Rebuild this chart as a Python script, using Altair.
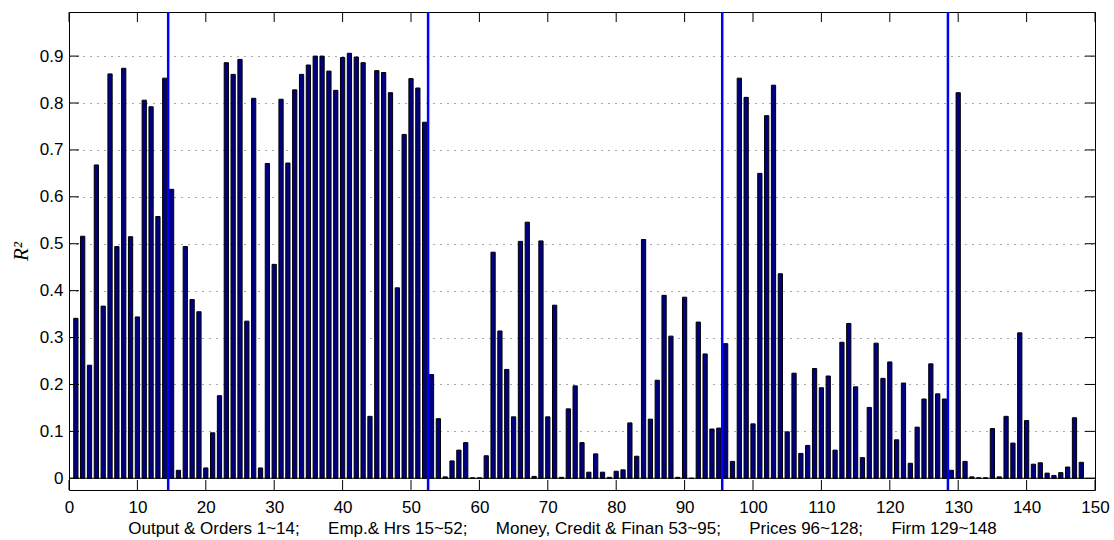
import altair as alt
import pandas as pd

# R^2 per series (1..148)
r2 = [
    0.341, 0.516, 0.241, 0.668, 0.367, 0.862, 0.494, 0.874, 0.515, 0.344,
    0.806, 0.792, 0.558, 0.853, 0.616, 0.017, 0.494, 0.381, 0.355, 0.022,
    0.097, 0.176, 0.886, 0.861, 0.893, 0.335, 0.810, 0.022, 0.671, 0.456,
    0.808, 0.672, 0.828, 0.861, 0.881, 0.900, 0.900, 0.868, 0.827, 0.897,
    0.906, 0.898, 0.886, 0.132, 0.869, 0.865, 0.822, 0.406, 0.733, 0.852,
    0.832, 0.759, 0.221, 0.127, 0.003, 0.037, 0.060, 0.076, 0.001, 0.001,
    0.048, 0.482, 0.314, 0.232, 0.131, 0.505, 0.546, 0.004, 0.506, 0.131,
    0.369, 0.002, 0.148, 0.197, 0.076, 0.013, 0.052, 0.013, 0.002, 0.015,
    0.018, 0.118, 0.047, 0.509, 0.126, 0.209, 0.390, 0.303, 0.002, 0.386,
    0.000, 0.333, 0.265, 0.105, 0.107, 0.287, 0.036, 0.853, 0.812, 0.116,
    0.650, 0.773, 0.838, 0.436, 0.099, 0.224, 0.053, 0.070, 0.234, 0.193,
    0.218, 0.060, 0.290, 0.330, 0.195, 0.044, 0.151, 0.288, 0.213, 0.248,
    0.082, 0.203, 0.032, 0.109, 0.169, 0.244, 0.180, 0.169, 0.017, 0.822,
    0.036, 0.003, 0.001, 0.001, 0.106, 0.003, 0.132, 0.075, 0.310, 0.123,
    0.030, 0.033, 0.011, 0.006, 0.012, 0.024, 0.129, 0.034,
]
series_index = list(range(1, len(r2) + 1))
group_bounds = [14.5, 52.5, 95.5, 128.5]
x_ticks = list(range(0, 151, 10))
y_ticks = [0, 0.1, 0.2, 0.3, 0.4, 0.5, 0.6, 0.7, 0.8, 0.9]
group_labels = ["Output & Orders 1~14;", "Emp.& Hrs 15~52;",
                "Money, Credit & Finan 53~95;", "Prices 96~128;", "Firm 129~148"]

W, H = 1026, 478
XDOM = [0, 150]
YDOM = [-0.025, 0.994]
HALF = 0.31
TICK = 10

gap = "\u00a0" * 6
x_title = gap.join(group_labels)

bars_df = pd.DataFrame({"i": series_index, "r2": r2})
bars_df["x0"] = bars_df["i"] - HALF
bars_df["x1"] = bars_df["i"] + HALF
bars_df["base"] = 0.0

xs = alt.Scale(domain=XDOM, nice=False, zero=False)
ys = alt.Scale(domain=YDOM, nice=False, zero=False)

x_axis = alt.Axis(
    values=x_ticks, grid=False, title=x_title, labelPadding=9,
    titleX=493, titleY=43, titleBaseline="alphabetic", titleAlign="center",
    titleFont="Liberation Sans", titleFontSize=17, titleFontWeight="normal",
    labelFlush=False, labelOverlap=False)
y_axis = alt.Axis(
    values=y_ticks, grid=True, gridDash=[1, 6], gridColor="#555555",
    gridWidth=1, labelPadding=6, title="R²",
    labelExpr="datum.value == 0 ? '0' : format(datum.value, '.1f')",
    titleX=-48, titleY=H / 2, titleAngle=270, titleAlign="center",
    titleBaseline="middle", titleFont="Liberation Serif", titleFontSize=21,
    titleFontStyle="italic", titleFontWeight="normal",
    labelFlush=False, labelOverlap=False)

bars = alt.Chart(bars_df).mark_bar(
    fill="#000080", stroke="black", strokeWidth=1
).encode(
    x=alt.X("x0:Q", scale=xs, axis=x_axis),
    x2="x1:Q",
    y=alt.Y("r2:Q", scale=ys, axis=y_axis),
    y2="base:Q",
)

baseline = alt.Chart(pd.DataFrame({"y": [0.0]})).mark_rule(
    color="black", strokeWidth=1
).encode(y=alt.Y("y:Q", scale=ys, axis=y_axis), x=alt.value(0), x2=alt.value(W))

blue = alt.Chart(pd.DataFrame({"b": group_bounds})).mark_rule(
    color="#0000ff", strokeWidth=2.5
).encode(x=alt.X("b:Q", scale=xs, axis=x_axis), y=alt.value(0), y2=alt.value(H))

xt_df = pd.DataFrame({"t": x_ticks})
yt_df = pd.DataFrame({"t": y_ticks})

tick_bottom = alt.Chart(xt_df).mark_rule(color="black", strokeWidth=1).encode(
    x=alt.X("t:Q", scale=xs, axis=x_axis), y=alt.value(H), y2=alt.value(H - TICK))
tick_top = alt.Chart(xt_df).mark_rule(color="black", strokeWidth=1).encode(
    x=alt.X("t:Q", scale=xs, axis=x_axis), y=alt.value(0), y2=alt.value(TICK))
tick_left = alt.Chart(yt_df).mark_rule(color="black", strokeWidth=1).encode(
    y=alt.Y("t:Q", scale=ys, axis=y_axis), x=alt.value(0), x2=alt.value(TICK))
tick_right = alt.Chart(yt_df).mark_rule(color="black", strokeWidth=1).encode(
    y=alt.Y("t:Q", scale=ys, axis=y_axis), x=alt.value(W - TICK), x2=alt.value(W))

chart = alt.layer(
    bars, baseline, tick_bottom, tick_top, tick_left, tick_right, blue
).properties(
    width=W, height=H,
    autosize=alt.AutoSizeParams(type="none"),
    padding={"left": 69, "top": 12, "right": 19, "bottom": 50},
    background="white",
).configure_view(
    stroke="black", strokeWidth=1
).configure_axis(
    domain=False, ticks=False,
    labelFont="Liberation Sans", labelFontSize=17, labelColor="black",
    titleColor="black",
)

chart.save("out.html", embed_options={"renderer": "svg", "actions": False})
